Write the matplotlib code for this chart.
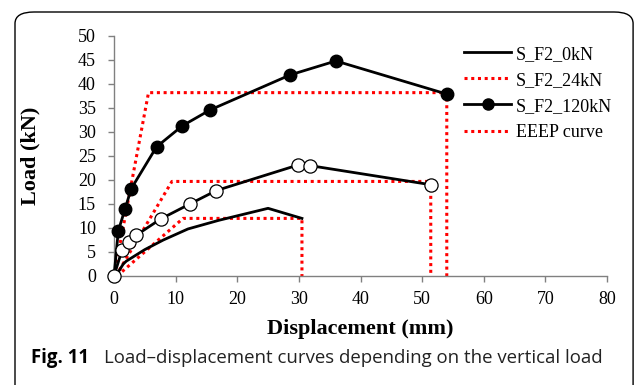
#=========================================================================
# load-displacement curves (Fig. 11)
#=========================================================================

import matplotlib
matplotlib.use('Agg')
import matplotlib.pyplot as plt
from matplotlib.patches import FancyBboxPatch
from matplotlib.lines import Line2D

#-------------------------------------------------------------------------
# Raw data
#-------------------------------------------------------------------------

# S_F2_0kN (no markers)
disp_0kN = [0.3, 1.5, 2.0, 5.0, 8.0, 12.0, 17.0, 25.0, 30.5]
load_0kN = [0.0, 2.5, 3.1, 5.5, 7.5, 9.8, 11.6, 14.1, 12.0]

# S_F2_24kN (open circles)
disp_24kN = [0.0, 1.3, 2.4, 3.6, 7.6, 12.3, 16.6, 29.8, 31.8, 51.5]
load_24kN = [0.0, 5.4, 7.1, 8.5, 11.9, 15.0, 17.8, 23.1, 23.0, 19.0]

# S_F2_120kN (filled circles)
disp_120kN = [0.0, 0.7, 1.8, 2.8, 6.9, 11.1, 15.6, 28.6, 36.0, 54.0]
load_120kN = [0.0, 9.4, 14.0, 18.2, 26.9, 31.3, 34.6, 41.9, 44.8, 37.9]

# EEEP curves
eeep_0kN_x   = [0.5, 11.2, 30.5, 30.5]
eeep_0kN_y   = [0.0, 12.0, 12.0, 0.0]
eeep_24kN_x  = [0.3, 9.4, 51.4, 51.4]
eeep_24kN_y  = [0.0, 19.7, 19.7, 0.0]
eeep_120kN_x = [0.0, 5.6, 54.0, 54.0]
eeep_120kN_y = [0.0, 38.2, 38.2, 0.0]

legend_labels = ['S_F2_0kN', 'S_F2_24kN', 'S_F2_120kN', 'EEEP curve']

#-------------------------------------------------------------------------
# Configure matplotlib
#-------------------------------------------------------------------------

plt.rcParams['font.family'] = 'serif'
plt.rcParams['font.serif']  = ['Liberation Serif', 'DejaVu Serif']

fig = plt.figure(figsize=(6.37, 3.85), dpi=100)

# rounded frame around figure + caption
frame = FancyBboxPatch((15/637, -0.1), 620/637 - 0.003, 1.1 - 12/385,
                       boxstyle='round,pad=0,rounding_size=0.03',
                       transform=fig.transFigure, fill=False,
                       edgecolor='black', linewidth=1.0)
fig.add_artist(frame)

ax = fig.add_axes([114/637, 1 - 276/385, 493/637, 240/385])

red = '#ff0000'
dot = dict(color=red, linestyle=(0, (1, 1.2)), linewidth=2.2)

ax.plot(eeep_0kN_x, eeep_0kN_y, **dot, zorder=2)
ax.plot(eeep_24kN_x, eeep_24kN_y, **dot, zorder=2)
ax.plot(eeep_120kN_x, eeep_120kN_y, **dot, zorder=2)

ax.plot(disp_0kN, load_0kN, color='black', linewidth=2.0, zorder=3)
ax.plot(disp_120kN, load_120kN, color='black', linewidth=2.0,
        marker='o', markersize=9, markerfacecolor='black',
        markeredgecolor='black', markevery=list(range(1, len(disp_120kN))),
        zorder=3, clip_on=False)
ax.plot(disp_24kN, load_24kN, color='black', linewidth=2.0,
        marker='o', markersize=9.5, markerfacecolor='white',
        markeredgecolor='black', markeredgewidth=0.9, zorder=4,
        clip_on=False)

# Legend (matches the original, including its quirks)
handles = [
  Line2D([], [], color='black', linewidth=2.0),
  Line2D([], [], **dot),
  Line2D([], [], color='black', linewidth=2.0, marker='o', markersize=8),
  Line2D([], [], **dot),
]
legend = ax.legend(handles, legend_labels, loc='upper left',
                   bbox_to_anchor=(0.685, 1.012), frameon=False,
                   fontsize=13, handlelength=2.6, handletextpad=0.25,
                   labelspacing=0.5, borderaxespad=0.3)

# Axes formatting
ax.set_xlim(0, 80)
ax.set_ylim(0, 50)
ax.set_xticks(range(0, 81, 10))
ax.set_yticks(range(0, 51, 5))
ax.tick_params(axis='both', labelsize=13, colors='#808080',
               labelcolor='black', length=4, width=1, direction='out')
ax.tick_params(axis='x', pad=7)
ax.tick_params(axis='y', pad=9)
for side in ['top', 'right']:
  ax.spines[side].set_visible(False)
for side in ['left', 'bottom']:
  ax.spines[side].set_color('#808080')
  ax.spines[side].set_linewidth(1.0)

ax.set_xlabel('Displacement (mm)', fontsize=16, fontweight='bold', labelpad=8)
ax.set_ylabel('Load (kN)', fontsize=16, fontweight='bold', labelpad=27)

# Caption
fig.text(31/637, 1 - 358/385, 'Fig. 11', family='Open Sans',
         fontweight='bold', fontsize=13.4, va='center', ha='left')
fig.text(104/637, 1 - 358/385,
         'Load\u2013displacement curves depending on the vertical load',
         family='Open Sans', fontsize=13.4, va='center', ha='left',
         color='#222222')

#-------------------------------------------------------------------------
# Save
#-------------------------------------------------------------------------

fig.savefig('out.png', dpi=100)
